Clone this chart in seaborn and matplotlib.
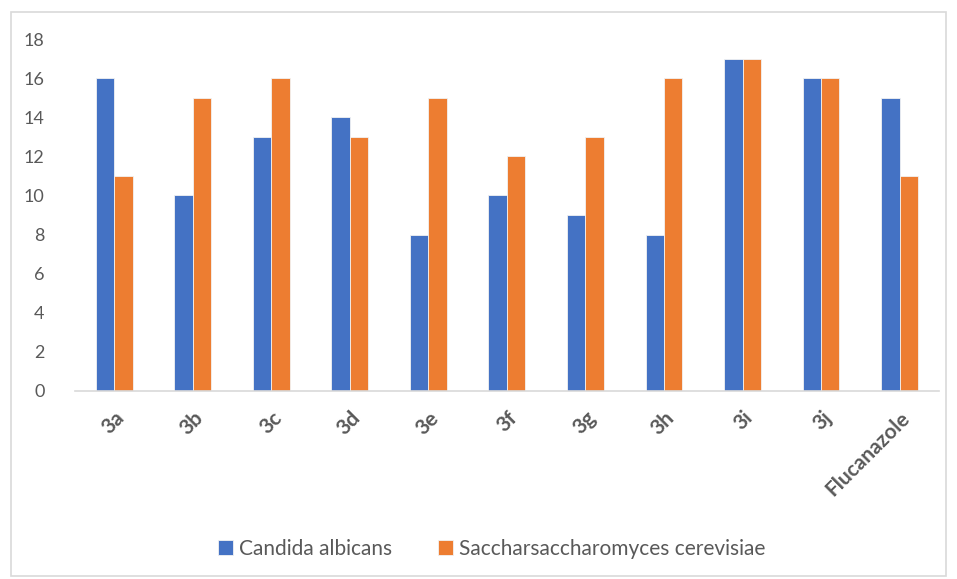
import pandas as pd
import seaborn as sns
from matplotlib import pyplot as plt
from matplotlib.patches import Rectangle

compounds = ["3a", "3b", "3c", "3d", "3e", "3f", "3g", "3h", "3i", "3j", "Flucanazole"]
candida = [16, 10, 13, 14, 8, 10, 9, 8, 17, 16, 15]
saccharo = [11, 15, 16, 13, 15, 12, 13, 16, 17, 16, 11]
series_names = ["Candida albicans", "Saccharsaccharomyces cerevisiae"]


def main():
    df = pd.DataFrame({
        "compound": compounds * 2,
        "value": candida + saccharo,
        "series": [series_names[0]] * len(compounds) + [series_names[1]] * len(compounds),
    })

    sns.set_theme(style="white")
    plt.rcParams["font.family"] = ["Lato", "DejaVu Sans"]

    fig = plt.figure(figsize=(9.57, 5.79), dpi=100)
    ax = fig.add_axes([0.0784, 0.3247, 0.9026, 0.6079])

    sns.barplot(
        data=df,
        x="compound",
        y="value",
        hue="series",
        palette=["#4472C4", "#ED7D31"],
        width=0.47,
        saturation=1,
        linewidth=0.6,
        edgecolor="#F2F2F2",
        ax=ax,
    )

    ax.set_ylim(0, 18)
    ax.set_yticks(range(0, 19, 2))
    ax.set_xlim(-0.5, len(compounds) - 0.5)
    ax.set(xlabel="", ylabel="")
    for side in ["top", "right", "left"]:
        ax.spines[side].set_visible(False)
    ax.spines["bottom"].set_color("#D9D9D9")
    ax.spines["bottom"].set_linewidth(1.2)
    ax.tick_params(axis="y", labelsize=13, labelcolor="#595959", length=0, pad=22)
    ax.tick_params(axis="x", labelsize=15, labelcolor="#595959", length=0, pad=12)
    for lbl in ax.get_xticklabels():
        lbl.set_rotation(45)
        lbl.set_ha("right")
        lbl.set_rotation_mode("anchor")
        lbl.set_fontweight("bold")

    leg = ax.legend(
        loc="center",
        ncol=2,
        frameon=False,
        fontsize=15,
        handlelength=0.7,
        handleheight=0.7,
        columnspacing=2.2,
        handletextpad=0.3,
    )
    leg.set_bbox_to_anchor((0.514, 0.052), transform=fig.transFigure)
    for t in leg.get_texts():
        t.set_color("#595959")

    fig.patches.append(Rectangle(
        (0.011, 0.005), 0.978, 0.975, transform=fig.transFigure,
        fill=False, edgecolor="#D9D9D9", linewidth=1.2,
    ))

    fig.savefig("out.png", dpi=100)


if __name__ == "__main__":
    main()
